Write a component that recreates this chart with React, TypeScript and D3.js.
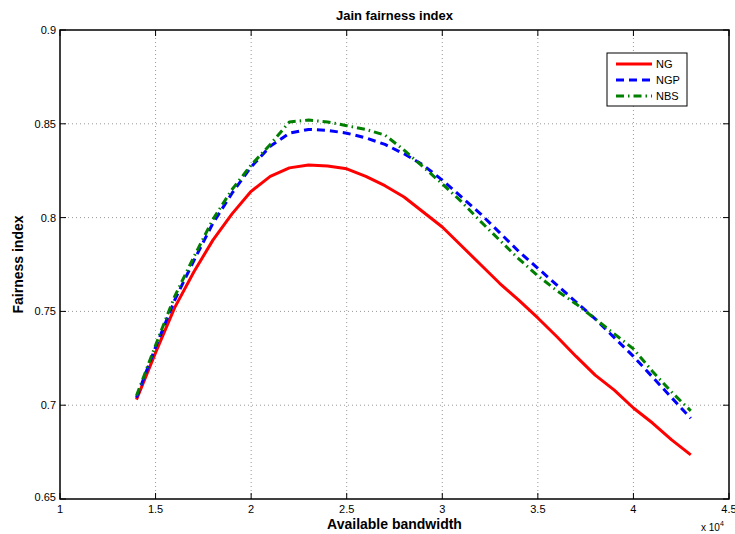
import React from "react";
import * as d3 from "d3";

const xValues = [1.4, 1.5, 1.6, 1.7, 1.8, 1.9, 2.0, 2.1, 2.2, 2.3, 2.4, 2.5, 2.6, 2.7, 2.8, 2.9, 3.0, 3.1, 3.2, 3.3, 3.4, 3.5, 3.6, 3.7, 3.8, 3.9, 4.0, 4.1, 4.2, 4.3];
const ngValues = [0.703, 0.728, 0.752, 0.771, 0.788, 0.802, 0.814, 0.822, 0.8265, 0.828, 0.8275, 0.826, 0.822, 0.817, 0.811, 0.803, 0.795, 0.785, 0.775, 0.765, 0.756, 0.7465, 0.7365, 0.726, 0.716, 0.708, 0.6985, 0.6905, 0.6815, 0.6735];
const ngpValues = [0.704, 0.731, 0.756, 0.777, 0.797, 0.813, 0.827, 0.838, 0.845, 0.847, 0.8465, 0.845, 0.8425, 0.839, 0.834, 0.828, 0.82, 0.811, 0.802, 0.792, 0.782, 0.773, 0.764, 0.755, 0.746, 0.736, 0.726, 0.715, 0.704, 0.693];
const nbsValues = [0.705, 0.732, 0.758, 0.779, 0.799, 0.815, 0.828, 0.839, 0.851, 0.852, 0.851, 0.849, 0.847, 0.844, 0.836, 0.827, 0.818, 0.8085, 0.798, 0.788, 0.778, 0.769, 0.761, 0.754, 0.746, 0.738, 0.73, 0.718, 0.707, 0.697];
const xTicks = [1, 1.5, 2, 2.5, 3, 3.5, 4, 4.5];
const yTicks = [0.65, 0.7, 0.75, 0.8, 0.85, 0.9];

const series = [
  { name: "NG", values: ngValues, color: "#ff0000", dash: "" },
  { name: "NGP", values: ngpValues, color: "#0000ff", dash: "8,5" },
  { name: "NBS", values: nbsValues, color: "#007f00", dash: "8,4,1.5,4" },
];

export default function App() {
  const W = 735, H = 534;
  const L = 60, R = 729, T = 30, B = 499;
  const x = d3.scaleLinear().domain([1, 4.5]).range([L, R]);
  const y = d3.scaleLinear().domain([0.65, 0.9]).range([B, T]);
  const font = "'Liberation Sans', Arial, Helvetica, sans-serif";
  const line = (vals: number[]) =>
    d3.line<number>().x((_, i) => x(xValues[i])).y((d) => y(d))(vals) || "";
  const tl = 6;
  return (
    <svg width={W} height={H} style={{ position: "absolute", left: 0, top: 0, background: "#fff" }}>
      <rect x={0} y={0} width={W} height={H} fill="#fff" />
      {xTicks.slice(1, -1).map((t) => (
        <line key={"gx" + t} x1={x(t)} x2={x(t)} y1={T} y2={B} stroke="#999" strokeWidth={1} strokeDasharray="1,3" />
      ))}
      {yTicks.slice(1, -1).map((t) => (
        <line key={"gy" + t} x1={L} x2={R} y1={y(t)} y2={y(t)} stroke="#999" strokeWidth={1} strokeDasharray="1,3" />
      ))}
      {xTicks.map((t) => (
        <g key={"tx" + t}>
          <line x1={x(t)} x2={x(t)} y1={B} y2={B - tl} stroke="#000" />
          <line x1={x(t)} x2={x(t)} y1={T} y2={T + tl} stroke="#000" />
          <text x={x(t)} y={B + 14} textAnchor="middle" fontSize={11} fontFamily={font}>{String(t)}</text>
        </g>
      ))}
      {yTicks.map((t) => (
        <g key={"ty" + t}>
          <line x1={L} x2={L + tl} y1={y(t)} y2={y(t)} stroke="#000" />
          <line x1={R} x2={R - tl} y1={y(t)} y2={y(t)} stroke="#000" />
          <text x={L - 4} y={t === 0.65 ? y(t) + 2 : y(t) + 4} textAnchor="end" fontSize={11} fontFamily={font}>{String(t)}</text>
        </g>
      ))}
      {series.map((s) => (
        <path key={s.name} d={line(s.values)} fill="none" stroke={s.color} strokeWidth={3} strokeDasharray={s.dash || undefined} strokeLinejoin="round" />
      ))}
      <rect x={L} y={T} width={R - L} height={B - T} fill="none" stroke="#000" strokeWidth={1.5} />
      <g>
        <rect x={607} y={53} width={80} height={53} fill="#fff" stroke="#000" strokeWidth={1} />
        {series.map((s, i) => (
          <g key={"lg" + s.name}>
            <line x1={616} x2={652} y1={64 + i * 16} y2={64 + i * 16} stroke={s.color} strokeWidth={3} strokeDasharray={s.dash || undefined} />
            <text x={656} y={68 + i * 16} fontSize={11} fontFamily={font}>{s.name}</text>
          </g>
        ))}
      </g>
      <text x={(L + R) / 2} y={20} textAnchor="middle" fontSize={13} fontWeight="bold" fontFamily={font}>Jain fairness index</text>
      <text x={(L + R) / 2} y={529} textAnchor="middle" fontSize={14} fontWeight="bold" fontFamily={font}>Available bandwidth</text>
      <text transform={`translate(23,${(T + B) / 2}) rotate(-90)`} textAnchor="middle" fontSize={14} fontWeight="bold" fontFamily={font}>Fairness index</text>
      <text x={701} y={531} fontSize={10} fontFamily={font}>x 10<tspan dy={-5} fontSize={7}>4</tspan></text>
    </svg>
  );
}
